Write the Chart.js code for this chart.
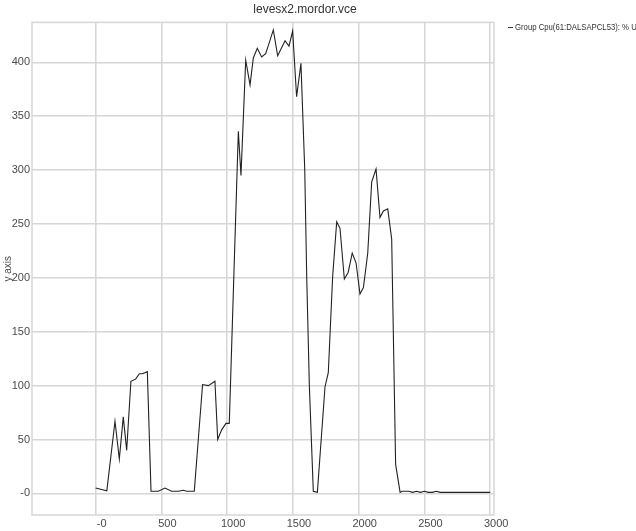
<!DOCTYPE html>
<html>
<head>
<meta charset="utf-8">
<title>levesx2.mordor.vce</title>
<script src="https://cdn.jsdelivr.net/npm/chart.js@4/dist/chart.umd.min.js"></script>
<style>
  html, body { margin: 0; padding: 0; background: #fff; }
  #wrap { width: 636px; height: 531px; }
</style>
</head>
<body>
<div id="wrap"><canvas id="cpuChart"></canvas></div>
<script>
let xValues = [
    0, 85, 147, 180, 210, 236, 268, 304, 332, 357, 393, 421, 476, 527, 578, 629,
    667, 692, 750, 813, 857, 907, 928, 958, 991, 1016, 1085, 1105, 1141, 1174,
    1199, 1229, 1262, 1293, 1351, 1384, 1440, 1470, 1498, 1528, 1561, 1590, 1605,
    1625, 1655, 1686, 1744, 1769, 1802, 1833, 1858, 1891, 1920, 1951, 1980, 2010,
    2036, 2069, 2099, 2132, 2162, 2188, 2221, 2251, 2281, 2315, 2330, 2380, 2410,
    2440, 2470, 2500, 2530, 2560, 2590, 2620, 2700, 2800, 2900, 3000,
  ],
  cpuValues = [
    5, 2.5, 67, 32, 71, 40, 104, 106, 111, 111, 113, 2, 2, 5, 2, 2,
    3, 2, 2, 101, 100, 104, 50, 59, 65, 65, 336, 295, 402, 379,
    404, 413, 405, 408, 430, 406, 420, 415, 429, 368, 399, 300, 200,
    100, 2, 1, 99, 112, 201, 252, 246, 199, 205, 223, 214, 185,
    191, 223, 289, 301, 256, 262, 264, 236, 27, 1, 2, 2, 1,
    2, 1, 2, 1, 1, 2, 1, 1, 1, 1, 1,
  ],
  xTicks = [0, 500, 1000, 1500, 2000, 2500, 3000],
  xTickLabels = ["-0", "500", "1000", "1500", "2000", "2500", "3000"],
  yTicks = [0, 50, 100, 150, 200, 250, 300, 350, 400],
  yTickLabels = ["-0", "50", "100", "150", "200", "250", "300", "350", "400"];

let seriesLabel = "Group Cpu(61:DALSAPCL53): % User Time";
let gridColor = "#d6d6d6";
let textColor = "#4a4a4a";

// frame round the plot + the small legend at top right
let framePlugin = {
  id: "frame",
  beforeDatasetsDraw: (chart) => {
    let { ctx, chartArea: a } = chart;
    ctx.save();
    ctx.strokeStyle = gridColor;
    ctx.lineWidth = 1.5;
    ctx.strokeRect(a.left, a.top, a.right - a.left, a.bottom - a.top);
    ctx.restore();
  },
  afterDraw: (chart) => {
    let ctx = chart.ctx;
    ctx.save();
    ctx.strokeStyle = "#333";
    ctx.lineWidth = 1;
    ctx.beginPath();
    ctx.moveTo(508, 27.5);
    ctx.lineTo(513, 27.5);
    ctx.stroke();
    // the original legend font is a narrow one, squeeze it a bit
    ctx.translate(515, 28);
    ctx.scale(0.86, 1);
    ctx.fillStyle = "#333";
    ctx.font = "9px 'Liberation Sans', Arial, sans-serif";
    ctx.textBaseline = "middle";
    ctx.fillText(chart.data.datasets[0].label, 0, 0);
    ctx.restore();
  },
};

new Chart(document.getElementById("cpuChart"), {
  type: "line",
  data: {
    datasets: [
      {
        label: seriesLabel,
        data: xValues.map((x, i) => ({ x: x, y: cpuValues[i] })),
        borderColor: "#222",
        borderWidth: 1.1,
        pointRadius: 0,
        tension: 0,
        fill: false,
      },
    ],
  },
  options: {
    responsive: true,
    maintainAspectRatio: false,
    animation: false,
    layout: { padding: { left: 0, right: 26, top: 0, bottom: 0 } },
    plugins: {
      legend: { display: false },
      tooltip: { enabled: false },
      title: {
        display: true,
        text: "levesx2.mordor.vce",
        color: "#333",
        font: { family: "'Liberation Sans', Arial, sans-serif", size: 12, weight: "normal" },
        padding: { top: 2, bottom: 6 },
      },
    },
    scales: {
      x: {
        type: "linear",
        min: -484,
        max: 3029,
        afterBuildTicks: (axis) => {
          axis.ticks = xTicks.map((v) => ({ value: v }));
        },
        afterFit: (axis) => {
          axis.height = 16;
        },
        ticks: {
          color: textColor,
          font: { family: "'Liberation Sans', Arial, sans-serif", size: 11 },
          padding: 2,
          labelOffset: 6,
          maxRotation: 0,
          callback: (v) => xTickLabels[xTicks.indexOf(v)],
        },
        grid: { color: gridColor, lineWidth: 1.5, drawTicks: false },
        border: { display: false },
      },
      y: {
        type: "linear",
        min: -20,
        max: 437,
        afterBuildTicks: (axis) => {
          axis.ticks = yTicks.map((v) => ({ value: v }));
        },
        afterFit: (axis) => {
          axis.width = 32;
        },
        ticks: {
          color: textColor,
          font: { family: "'Liberation Sans', Arial, sans-serif", size: 11 },
          padding: 2,
          callback: (v) => yTickLabels[yTicks.indexOf(v)],
        },
        grid: { color: gridColor, lineWidth: 1.5, drawTicks: false },
        border: { display: false },
        title: {
          display: true,
          text: "y axis",
          color: textColor,
          font: { family: "'Liberation Sans', Arial, sans-serif", size: 10 },
          padding: { top: 2, bottom: 0 },
        },
      },
      yRight: {
        type: "linear",
        position: "right",
        display: true,
        afterFit: (axis) => {
          axis.width = 116;
        },
        ticks: { display: false },
        grid: { display: false },
        border: { display: false },
      },
    },
  },
  plugins: [framePlugin],
});
</script>
</body>
</html>
